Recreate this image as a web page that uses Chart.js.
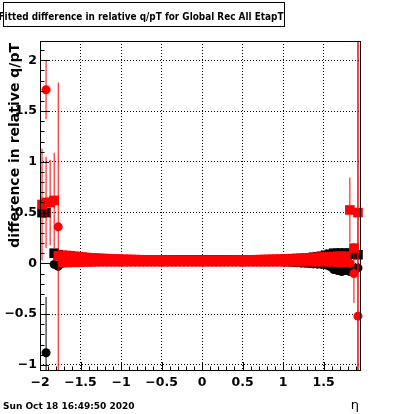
<!DOCTYPE html>
<html><head><meta charset="utf-8">
<script src="https://cdn.jsdelivr.net/npm/chart.js@4.4.1/dist/chart.umd.min.js"></script>
<style>html,body{margin:0;padding:0;background:#fff}canvas{display:block}</style>
</head><body>
<canvas id="c" width="400" height="414"></canvas>
<script>
// ---- data ----
const etaBins = [
 -1.975,-1.925,-1.875,-1.825,-1.775,-1.725,-1.675,-1.625,-1.575,-1.525,
 -1.475,-1.425,-1.375,-1.325,-1.275,-1.225,-1.175,-1.125,-1.075,-1.025,
 -0.975,-0.925,-0.875,-0.825,-0.775,-0.725,-0.675,-0.625,-0.575,-0.525,
 -0.475,-0.425,-0.375,-0.325,-0.275,-0.225,-0.175,-0.125,-0.075,-0.025,
 0.025,0.075,0.125,0.175,0.225,0.275,0.325,0.375,0.425,0.475,
 0.525,0.575,0.625,0.675,0.725,0.775,0.825,0.875,0.925,0.975,
 1.025,1.075,1.125,1.175,1.225,1.275,1.325,1.375,1.425,1.475,
 1.525,1.575,1.625,1.675,1.725,1.775,1.825,1.875,1.925];

const redSquares = [
 0.58,0.60,0.60,0.62,0.075,0.08,0.078,0.075,0.07,0.066,
 0.062,0.058,0.055,0.052,0.05,0.048,0.046,0.044,0.042,0.041,
 0.04,0.039,0.038,0.037,0.036,0.035,0.034,0.034,0.033,0.033,
 0.032,0.032,0.031,0.031,0.031,0.031,0.031,0.031,0.031,0.031,
 0.031,0.031,0.031,0.031,0.031,0.031,0.031,0.032,0.032,0.033,
 0.033,0.034,0.035,0.036,0.037,0.038,0.039,0.04,0.041,0.042,
 0.043,0.045,0.047,0.049,0.051,0.053,0.055,0.057,0.059,0.061,
 0.063,0.065,0.067,0.069,0.07,0.07,0.526,0.15,0.50];
const redSquaresErr = [
 0.55,0.45,0.42,0.47,0.02,0.015,0.012,0.01,0.01,0.01,
 0.01,0.01,0.01,0.01,0.01,0.01,0.01,0.01,0.01,0.01,
 0.008,0.008,0.008,0.008,0.008,0.008,0.008,0.008,0.008,0.008,
 0.008,0.008,0.008,0.008,0.008,0.008,0.008,0.008,0.008,0.008,
 0.008,0.008,0.008,0.008,0.008,0.008,0.008,0.008,0.008,0.008,
 0.008,0.008,0.008,0.008,0.008,0.008,0.008,0.008,0.008,0.008,
 0.01,0.01,0.01,0.01,0.01,0.01,0.01,0.01,0.01,0.01,
 0.012,0.012,0.012,0.015,0.015,0.015,0.32,0.05,3.0];
const redCircles = [
 null,1.71,null,null,0.36,0.0,0.002,0.004,0.005,0.006,
 0.007,0.008,0.009,0.01,0.01,0.01,0.01,0.01,0.01,0.01,
 0.01,0.01,0.01,0.01,0.01,0.01,0.01,0.01,0.01,0.01,
 0.01,0.01,0.01,0.01,0.01,0.01,0.01,0.01,0.01,0.01,
 0.01,0.01,0.01,0.01,0.01,0.01,0.01,0.01,0.01,0.01,
 0.01,0.01,0.01,0.01,0.01,0.01,0.01,0.01,0.01,0.01,
 0.01,0.01,0.01,0.01,0.01,0.01,0.01,0.01,0.01,0.01,
 0.01,0.008,0.008,0.006,0.005,0.005,0.0,-0.10,-0.52];
const redCirclesErr = [
 null,0.29,null,null,1.42,0.01,0.01,0.01,0.01,0.01,
 0.01,0.01,0.01,0.01,0.01,0.01,0.01,0.01,0.01,0.01,
 0.008,0.008,0.008,0.008,0.008,0.008,0.008,0.008,0.008,0.008,
 0.008,0.008,0.008,0.008,0.008,0.008,0.008,0.008,0.008,0.008,
 0.008,0.008,0.008,0.008,0.008,0.008,0.008,0.008,0.008,0.008,
 0.008,0.008,0.008,0.008,0.008,0.008,0.008,0.008,0.008,0.008,
 0.01,0.01,0.01,0.01,0.01,0.01,0.01,0.01,0.01,0.01,
 0.012,0.012,0.012,0.015,0.015,0.015,0.02,0.29,3.0];
const blackSquares = [
 0.5,0.5,null,0.1,0.085,0.06,0.05,0.045,0.04,0.04,
 0.038,0.037,0.036,0.035,0.035,0.035,0.035,0.035,0.035,0.035,
 0.035,0.035,0.035,0.035,0.035,0.035,0.035,0.035,0.035,0.035,
 0.035,0.035,0.035,0.035,0.035,0.035,0.035,0.035,0.035,0.035,
 0.035,0.035,0.035,0.035,0.035,0.035,0.035,0.035,0.035,0.035,
 0.035,0.035,0.035,0.035,0.035,0.035,0.035,0.035,0.035,0.035,
 0.036,0.038,0.04,0.042,0.045,0.048,0.052,0.06,0.065,0.07,
 0.08,0.09,0.1,0.1,0.1,0.1,0.1,0.09,0.085];
const blackSquaresErr = [
 0.05,0.05,null,0.02,0.02,0.01,0.01,0.01,0.01,0.01,
 0.008,0.008,0.008,0.008,0.008,0.008,0.008,0.008,0.008,0.008,
 0.008,0.008,0.008,0.008,0.008,0.008,0.008,0.008,0.008,0.008,
 0.008,0.008,0.008,0.008,0.008,0.008,0.008,0.008,0.008,0.008,
 0.008,0.008,0.008,0.008,0.008,0.008,0.008,0.008,0.008,0.008,
 0.008,0.008,0.008,0.008,0.008,0.008,0.008,0.008,0.008,0.008,
 0.01,0.01,0.01,0.01,0.01,0.01,0.01,0.01,0.01,0.01,
 0.015,0.015,0.015,0.015,0.015,0.015,0.02,0.02,0.02];
const blackCircles = [
 null,-0.88,null,-0.01,-0.03,0.0,0.01,0.015,0.015,0.015,
 0.015,0.015,0.015,0.015,0.015,0.015,0.015,0.015,0.015,0.015,
 0.015,0.015,0.015,0.015,0.015,0.015,0.015,0.015,0.015,0.015,
 0.015,0.015,0.015,0.015,0.015,0.015,0.015,0.015,0.015,0.015,
 0.015,0.015,0.015,0.015,0.015,0.015,0.015,0.015,0.015,0.015,
 0.015,0.015,0.015,0.015,0.015,0.015,0.015,0.015,0.015,0.015,
 0.012,0.01,0.008,0.005,0.002,0.0,-0.002,-0.005,-0.008,-0.01,
 -0.015,-0.03,-0.06,-0.07,-0.08,-0.07,-0.08,-0.05,-0.045];
const blackCirclesErr = [
 null,0.55,null,0.03,0.04,0.01,0.01,0.01,0.01,0.01,
 0.008,0.008,0.008,0.008,0.008,0.008,0.008,0.008,0.008,0.008,
 0.008,0.008,0.008,0.008,0.008,0.008,0.008,0.008,0.008,0.008,
 0.008,0.008,0.008,0.008,0.008,0.008,0.008,0.008,0.008,0.008,
 0.008,0.008,0.008,0.008,0.008,0.008,0.008,0.008,0.008,0.008,
 0.008,0.008,0.008,0.008,0.008,0.008,0.008,0.008,0.008,0.008,
 0.01,0.01,0.01,0.01,0.01,0.01,0.01,0.01,0.01,0.01,
 0.015,0.015,0.015,0.015,0.015,0.015,0.02,0.02,0.02];

const xTickValues = [-2,-1.5,-1,-0.5,0,0.5,1,1.5];
const xTickLabels = ['\u22122','\u22121.5','\u22121','\u22120.5','0','0.5','1','1.5'];
const yTickValues = [-1,-0.5,0,0.5,1,1.5,2];
const yTickLabels = ['\u22121','\u22120.5','0','0.5','1','1.5','2'];

const headerText = 'Fitted difference in relative q/pT for Global Rec All EtapT';
const yTitle = 'difference in relative q/pT';
const xTitle = '\u03b7';
const dateText = 'Sun Oct 18 16:49:50 2020';

// ---- builders ----
function points(xs, vs) {
  const out = [];
  xs.forEach((x, i) => { if (vs[i] !== null) out.push({x: x, y: vs[i]}); });
  return out;
}
function errorSegments(xs, vs, es) {
  const out = [];
  xs.forEach((x, i) => {
    if (vs[i] === null || es[i] === null) return;
    out.push({x: x, y: vs[i] - es[i]});
    out.push({x: x, y: vs[i] + es[i]});
    out.push({x: x, y: null});
  });
  return out;
}
const RED = '#ff0000', BLACK = '#000000';
function errDs(data, color, order) {
  return {data: data, showLine: true, borderColor: color, borderWidth: 1, pointRadius: 0,
          spanGaps: false, clip: 0, order: order};
}
function markDs(data, color, style, radius, order) {
  return {data: data, showLine: false, backgroundColor: color, borderColor: color, borderWidth: 0,
          pointStyle: style, pointRadius: radius, clip: false, order: order};
}

const FONT = 'DejaVu Sans';

const decorations = {
  id: 'decorations',
  beforeDraw(chart) {
    const c = chart.ctx;
    c.save(); c.fillStyle = '#fff'; c.fillRect(0, 0, chart.width, chart.height); c.restore();
  },
  afterDraw(chart) {
    const c = chart.ctx, a = chart.chartArea;
    const xs = chart.scales.x, ys = chart.scales.y;
    c.save();
    c.strokeStyle = '#000'; c.lineWidth = 1;
    // frame
    c.strokeRect(a.left + 0.5, a.top + 0.5, a.right - a.left, a.bottom - a.top - 1);
    // inner ticks
    c.beginPath();
    for (let k = -10; k <= 21; k++) {
      const p = Math.round(ys.getPixelForValue(k / 10)) + 0.5;
      const len = (k % 5 === 0) ? 9 : 4.5;
      c.moveTo(a.left, p); c.lineTo(a.left + len, p);
    }
    for (let k = -20; k <= 19; k++) {
      const p = Math.round(xs.getPixelForValue(k / 10)) + 0.5;
      const len = (k % 5 === 0) ? 9 : 4.5;
      c.moveTo(p, a.bottom); c.lineTo(p, a.bottom - len);
    }
    c.stroke();
    // header box
    c.strokeRect(3.5, 2.5, 281, 24);
    c.fillStyle = '#000';
    c.font = 'bold 10px "' + FONT + '"';
    c.textAlign = 'center'; c.textBaseline = 'alphabetic';
    c.fillText(headerText, 141, 19.5, 285);
    // date
    c.font = 'bold 9px "' + FONT + '"';
    c.textAlign = 'left';
    c.fillText(dateText, 3, 409);
    // x title
    c.font = '13px "' + FONT + '"';
    c.textAlign = 'right';
    c.fillText(xTitle, 359, 409);
    // y title
    c.font = 'bold 14px "' + FONT + '"';
    c.translate(19, 43); c.rotate(-Math.PI / 2);
    c.textAlign = 'right';
    c.fillText(yTitle, 0, 0);
    c.restore();
  }
};

const tickFont = {family: FONT, weight: 'bold', size: 12.5};

new Chart(document.getElementById('c').getContext('2d'), {
  type: 'scatter',
  data: {
    datasets: [
      markDs(points(etaBins, redCircles), RED, 'circle', 4.5, 1),
      markDs(points(etaBins, redSquares), RED, 'rect', 6.8, 2),
      errDs(errorSegments(etaBins, redCircles, redCirclesErr), RED, 3),
      errDs(errorSegments(etaBins, redSquares, redSquaresErr), RED, 4),
      markDs(points(etaBins, blackCircles), BLACK, 'circle', 4.5, 5),
      markDs(points(etaBins, blackSquares), BLACK, 'rect', 6.8, 6),
      errDs(errorSegments(etaBins, blackCircles, blackCirclesErr), BLACK, 7),
      errDs(errorSegments(etaBins, blackSquares, blackSquaresErr), BLACK, 8)
    ]
  },
  options: {
    responsive: false, animation: false, events: [],
    layout: {padding: {top: 41, right: 40, left: 0, bottom: 0}},
    plugins: {legend: {display: false}, tooltip: {enabled: false}, title: {display: false}},
    scales: {
      x: {
        type: 'linear', min: -2, max: 1.95,
        afterBuildTicks: s => { s.ticks = xTickValues.map(v => ({value: v})); },
        afterFit: s => { s.height = 43; },
        grid: {color: '#000', lineWidth: 1, drawTicks: false},
        border: {display: false, dash: [1, 2]},
        ticks: {padding: 4, color: '#000', font: tickFont, maxRotation: 0, autoSkip: false,
                callback: (v, i) => xTickLabels[i]}
      },
      y: {
        type: 'linear', min: -1.06, max: 2.19,
        afterBuildTicks: s => { s.ticks = yTickValues.map(v => ({value: v})); },
        afterFit: s => { s.width = 40; },
        grid: {color: '#000', lineWidth: 1, drawTicks: false},
        border: {display: false, dash: [1, 2]},
        ticks: {padding: 3, color: '#000', font: tickFont, autoSkip: false,
                callback: (v, i) => yTickLabels[i]}
      }
    }
  },
  plugins: [decorations]
});
</script>
</body></html>
